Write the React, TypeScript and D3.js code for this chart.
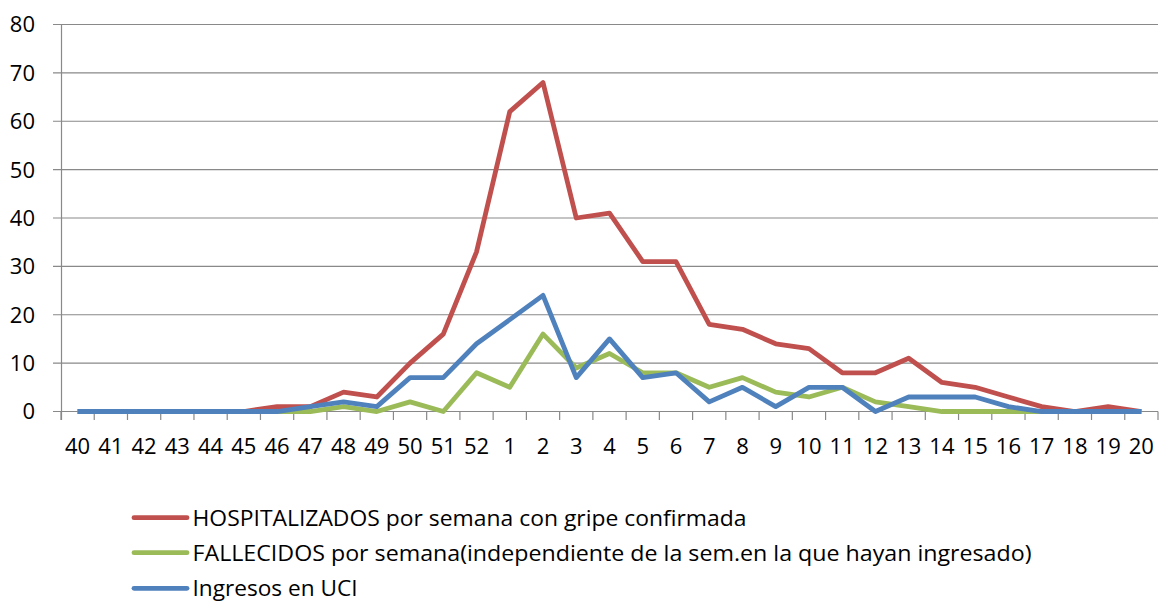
import React from "react";
import * as d3 from "d3";

const weeks: string[] = [
  "40","41","42","43","44","45","46","47","48","49","50","51","52",
  "1","2","3","4","5","6","7","8","9","10","11","12","13","14","15","16","17","18","19","20",
];

const hospitalizados: number[] = [
  0,0,0,0,0,0,1,1,4,3,10,16,33,
  62,68,40,41,31,31,18,17,14,13,8,8,11,6,5,3,1,0,1,0,
];

const fallecidos: number[] = [
  0,0,0,0,0,0,0,0,1,0,2,0,8,
  5,16,9,12,8,8,5,7,4,3,5,2,1,0,0,0,0,0,0,0,
];

const uci: number[] = [
  0,0,0,0,0,0,0,1,2,1,7,7,14,
  19,24,7,15,7,8,2,5,1,5,5,0,3,3,3,1,0,0,0,0,
];

const yTicks: number[] = [0, 10, 20, 30, 40, 50, 60, 70, 80];

const seriesNames: string[] = [
  "HOSPITALIZADOS por semana con gripe confirmada",
  "FALLECIDOS por semana(independiente de la sem.en la que hayan ingresado)",
  "Ingresos en UCI",
];
const seriesColors: string[] = ["#C0504D", "#9BBB59", "#4F81BD"];
const legendTextLengths: number[] = [554, 839, 165];

const W = 1160;
const H = 602;
const FONT = "'Open Sans', 'Liberation Sans', sans-serif";

export default function App() {
  const x = d3.scaleBand<string>().domain(weeks).range([61, 1158]);
  const y = d3.scaleLinear().domain([0, 80]).range([411.5, 24.5]);
  const cx = (w: string) => (x(w) as number) + x.bandwidth() / 2;

  const line = d3
    .line<number>()
    .x((_, i) => cx(weeks[i]))
    .y((d) => y(d));

  const allSeries = [hospitalizados, fallecidos, uci];
  const gridColor = "#898989";
  const boundaries = d3.range(weeks.length + 1).map((i) => 61 + i * x.step());

  return (
    <svg
      width={W}
      height={H}
      style={{ position: "absolute", left: 0, top: 0, background: "#fff" }}
      fontFamily={FONT}
    >
      <rect x={0} y={0} width={W} height={H} fill="#fff" />
      {yTicks.map((t) => (
        <g key={t}>
          <line x1={53} x2={1158} y1={y(t)} y2={y(t)} stroke={gridColor} strokeWidth={1.2} />
          <text x={35} y={y(t)} dy="0.36em" textAnchor="end" fontSize={22} fill="#000">
            {t}
          </text>
        </g>
      ))}
      <line x1={61.5} x2={61.5} y1={y(80)} y2={420} stroke={gridColor} strokeWidth={1.2} />
      {boundaries.map((bx, i) => (
        <line key={i} x1={bx} x2={bx} y1={y(0)} y2={420} stroke={gridColor} strokeWidth={1.2} />
      ))}
      {weeks.map((w) => (
        <text key={w} x={cx(w)} y={446.5} dy="0.36em" textAnchor="middle" fontSize={22} fill="#000">
          {w}
        </text>
      ))}
      {allSeries.map((s, i) => (
        <path
          key={i}
          d={line(s) || ""}
          fill="none"
          stroke={seriesColors[i]}
          strokeWidth={4.8}
          strokeLinejoin="round"
          strokeLinecap="butt"
        />
      ))}
      {seriesNames.map((name, i) => {
        const ly = [517.7, 552.7, 588.3][i];
        return (
          <g key={name}>
            <line x1={134} x2={187} y1={ly} y2={ly} stroke={seriesColors[i]} strokeWidth={4.8} strokeLinecap="round" />
            <text
              x={192.5}
              y={ly}
              dy="0.36em"
              fontSize={22}
              fill="#000"
              textLength={legendTextLengths[i]}
              lengthAdjust="spacingAndGlyphs"
            >
              {name}
            </text>
          </g>
        );
      })}
    </svg>
  );
}
